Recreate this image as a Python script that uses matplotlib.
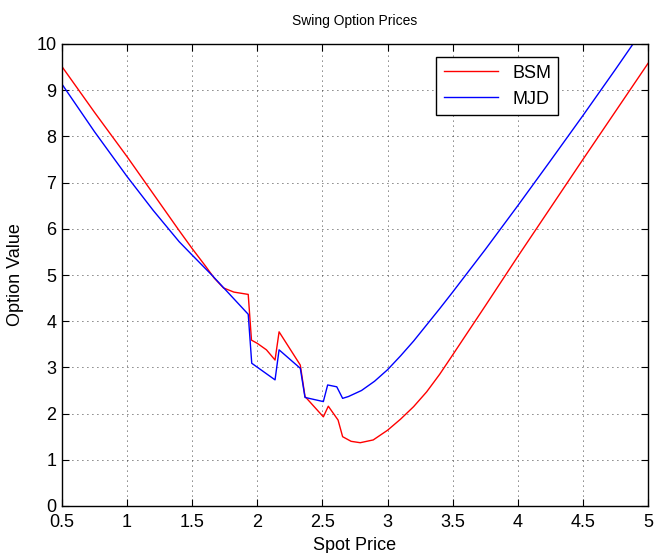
import numpy as np
import matplotlib
matplotlib.use('Agg')
import matplotlib.pyplot as plt

plt.rcParams['font.family'] = ['Liberation Sans', 'DejaVu Sans']

# BSM curve
bsm_x = [0.5, 0.75, 1.0, 1.25, 1.4, 1.5, 1.6, 1.67, 1.74, 1.82, 1.93,
         1.955, 2.0, 2.07, 2.136, 2.167, 2.33, 2.366, 2.507, 2.545, 2.62,
         2.655, 2.72, 2.79, 2.89, 3.0, 3.1, 3.2, 3.3, 3.4, 3.5, 3.75, 4.0,
         4.25, 4.5, 4.75, 5.0]
bsm_y = [9.51, 8.52, 7.56, 6.56, 5.96, 5.57, 5.2, 4.93, 4.72, 4.63, 4.58,
         3.59, 3.52, 3.38, 3.16, 3.77, 3.05, 2.37, 1.93, 2.16, 1.86,
         1.50, 1.40, 1.37, 1.43, 1.64, 1.88, 2.15, 2.47, 2.85, 3.27, 4.33, 5.40,
         6.45, 7.50, 8.54, 9.58]

# MJD curve
mjd_x = [0.5, 0.75, 1.0, 1.2, 1.4, 1.5, 1.65, 1.93, 1.957,
         2.136, 2.167, 2.33, 2.366, 2.507, 2.54, 2.61, 2.655, 2.7, 2.8, 2.9,
         3.0, 3.1, 3.2, 3.3, 3.4, 3.5, 3.75, 4.0, 4.25, 4.5, 4.75, 5.0]
mjd_y = [9.13, 8.1, 7.13, 6.4, 5.72, 5.43, 5.0, 4.15, 3.09,
         2.73, 3.38, 2.98, 2.35, 2.26, 2.62, 2.58, 2.33, 2.37, 2.50, 2.70,
         2.95, 3.25, 3.57, 3.92, 4.27, 4.63, 5.55, 6.50, 7.47, 8.45, 9.45, 10.47]

fig = plt.figure(figsize=(6.56, 5.53), dpi=100)
ax = fig.add_axes([62/656, 47/553, 586/656, 462/553])

ax.plot(bsm_x, bsm_y, color='red', lw=1.0, label='BSM')
ax.plot(mjd_x, mjd_y, color='blue', lw=1.0, label='MJD')

ax.set_xlim(0.5, 5)
ax.set_ylim(0, 10)
ax.set_xticks(np.arange(0.5, 5.01, 0.5))
ax.set_xticklabels(['0.5', '1', '1.5', '2', '2.5', '3', '3.5', '4', '4.5', '5'])
ax.set_yticks(range(11))

ax.grid(True, color='black', linestyle=(0, (1, 5)), linewidth=0.6)
ax.tick_params(direction='in', top=True, right=True, length=5,
               labelsize=13, width=0.8)
ax.tick_params(axis='x', pad=6)
ax.tick_params(axis='y', pad=4)
for s in ax.spines.values():
    s.set_linewidth(1.0)

ax.set_title('Swing Option Prices', fontsize=10, pad=14)
ax.set_xlabel('Spot Price', fontsize=13, labelpad=4)
ax.set_ylabel('Option Value', fontsize=13, labelpad=9)

leg = ax.legend(loc='upper right', bbox_to_anchor=(0.847, 0.971),
                borderaxespad=0, fontsize=13, handlelength=3,
                fancybox=False, framealpha=1, edgecolor='black')
leg.get_frame().set_linewidth(1.0)

fig.savefig('out.png', dpi=100)
